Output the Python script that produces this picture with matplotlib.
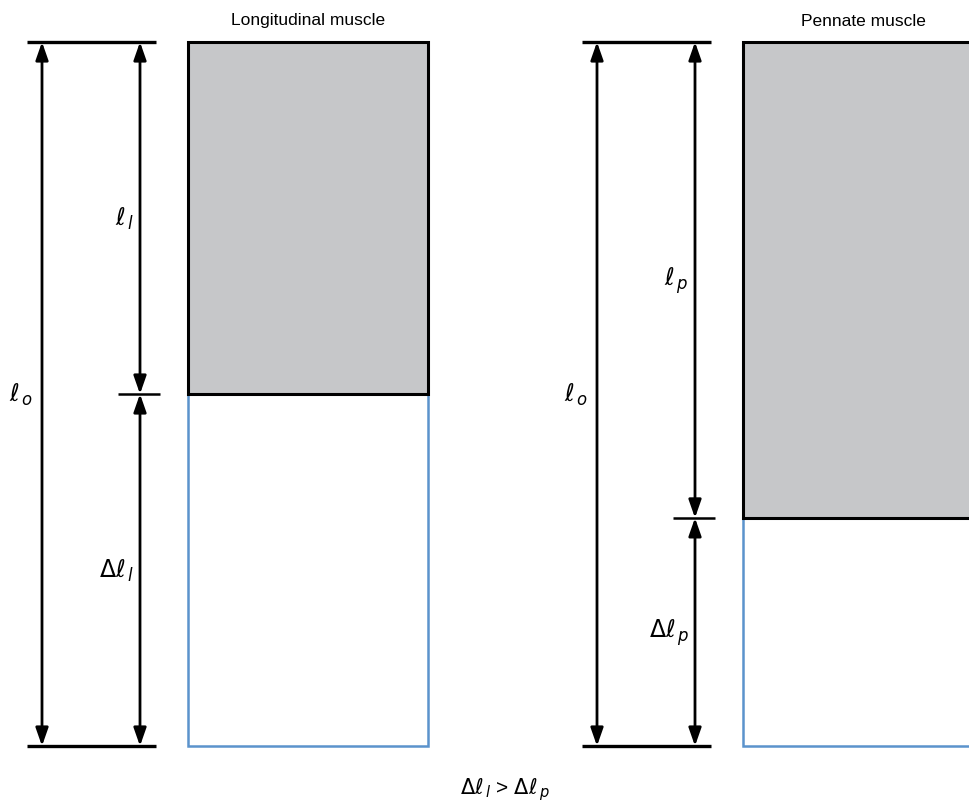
import matplotlib
matplotlib.use("Agg")
import matplotlib.pyplot as plt
from matplotlib.patches import Rectangle, FancyArrowPatch

plt.rcParams["font.family"] = ["Liberation Sans", "DejaVu Sans"]
plt.rcParams["mathtext.fontset"] = "dejavusans"

# data: rest length l_o = 10, contracted length of each muscle
titles = ["Longitudinal muscle", "Pennate muscle"]
rest_length = [10.0, 10.0]
short_length = [5.0, 6.76]
inner_labels = [r"$\ell_{\,l}$", r"$\ell_{\,p}$"]
delta_labels = [r"$\Delta\ell_{\,l}$", r"$\Delta\ell_{\,p}$"]
outer_label = r"$\ell_{\,o}$"
bottom_text = r"$\Delta\ell_{\,l}$ > $\Delta\ell_{\,p}$"

# layout (pixels along x)
panel_x0 = [27, 582]
GRAY = "#c6c7c9"
BLUE = "#5b93cc"

fig = plt.figure(figsize=(9.70, 8.12), dpi=100)
ax = fig.add_axes([0, 0, 1, 1])
ppu = 70.4  # pixels per unit length
ax.set_xlim(0, 970)
ax.set_ylim(10 + 65 / ppu, -43 / ppu)
ax.axis("off")


def darrow(x, y0, y1):
    a = FancyArrowPatch((x, y0), (x, y1), arrowstyle="<|-|>,head_length=0.8,head_width=0.28",
                        mutation_scale=13.5, lw=2.0, color="black", shrinkA=0, shrinkB=0)
    ax.add_patch(a)


for i in range(2):
    x0 = panel_x0[i]
    L = rest_length[i]
    s = short_length[i]
    xo = x0 + 15      # outer arrow
    xi = x0 + 113     # inner arrow
    rx = x0 + 161     # rectangle left
    rw = 240

    # end lines
    ax.plot([x0, x0 + 129], [0, 0], color="black", lw=2.4, solid_capstyle="butt")
    ax.plot([x0, x0 + 129], [L, L], color="black", lw=2.4, solid_capstyle="butt")
    ax.plot([x0 + 91, x0 + 133], [s, s], color="black", lw=1.8, solid_capstyle="butt")

    darrow(xo, 0, L)
    darrow(xi, 0, s)
    darrow(xi, s, L)

    # muscle at rest (blue outline) and contracted (gray)
    ax.add_patch(Rectangle((rx, 0), rw, L, fill=False, edgecolor=BLUE, lw=1.8))
    ax.add_patch(Rectangle((rx, 0), rw, s, facecolor=GRAY, edgecolor="black", lw=2.2))

    ax.text(rx + rw / 2, -22 / ppu, titles[i], ha="center", va="center", fontsize=12.5)
    ax.text(xo - 33, L * 0.5, outer_label, ha="left", va="center", fontsize=17)
    ax.text(xi - 6, s * 0.5, inner_labels[i], ha="right", va="center", fontsize=17)
    ax.text(xi - 6, (s + L) * 0.5, delta_labels[i], ha="right", va="center", fontsize=17)

ax.text(505, 10 + 43 / ppu, bottom_text, ha="center", va="center", fontsize=15)

fig.savefig("out.png", dpi=100)
